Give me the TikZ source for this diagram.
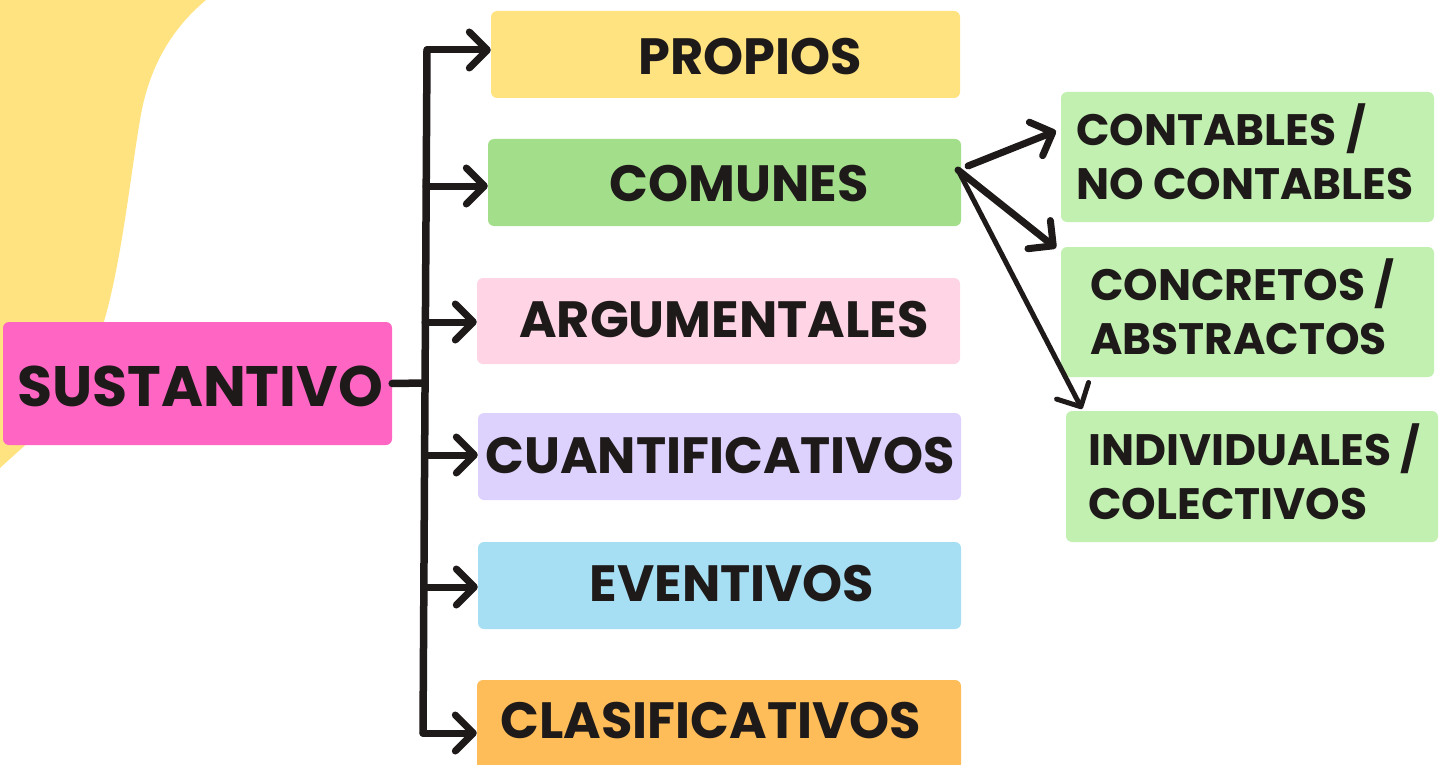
\documentclass[tikz,border=0pt]{standalone}
\usepackage{fontspec}
\setmainfont{Poppins}
\usetikzlibrary{arrows.meta}
\definecolor{cpink}{HTML}{FF66C4}
\definecolor{cyellow}{HTML}{FFE380}
\definecolor{cgreen}{HTML}{A3DF8A}
\definecolor{clpink}{HTML}{FFD4E5}
\definecolor{clav}{HTML}{DDD1FD}
\definecolor{cblue}{HTML}{A6DFF3}
\definecolor{corange}{HTML}{FFBD59}
\definecolor{clgreen}{HTML}{C2F0B1}
\definecolor{ink}{HTML}{1E1A19}
\tikzset{
  box/.style={rounded corners=6pt, inner sep=0pt},
  txt/.style={text=ink, font=\bfseries\fontsize{51}{55}\selectfont, inner sep=0pt, anchor=center},
  rtxt/.style={text=ink, font=\bfseries\fontsize{44}{54}\selectfont, inner sep=0pt, align=left, anchor=north west},
  trunk/.style={line width=7.5pt, draw=ink, line cap=round},
  arr/.style={line width=7pt, draw=ink, line cap=round, -{Straight Barb[length=18pt,width=36pt,round]}},
}
\begin{document}
\begin{tikzpicture}[x=1pt,y=-1pt]
\useasboundingbox (0,0) rectangle (1446,765);
% background blob
\fill[cyellow] (0,0) -- (206,0) .. controls (170,30) and (148,70) .. (140,120)
  .. controls (128,190) and (118,300) .. (90,360)
  .. controls (70,410) and (30,440) .. (0,468) -- cycle;
% boxes
\node[box, fill=cpink, minimum width=389pt, minimum height=123pt] (sus) at (197.5,383.5) {};
\node[box, fill=cyellow, minimum width=469pt, minimum height=87pt] (pro) at (725.5,54.5) {};
\node[box, fill=cgreen, minimum width=473pt, minimum height=87pt] (com) at (724.5,182.5) {};
\node[box, fill=clpink, minimum width=483pt, minimum height=86pt] (arg) at (718.5,321) {};
\node[box, fill=clav, minimum width=483pt, minimum height=87pt] (cua) at (719.5,456.5) {};
\node[box, fill=cblue, minimum width=483pt, minimum height=87pt] (eve) at (719.5,585.5) {};
\node[box, fill=corange, minimum width=484pt, minimum height=90pt] (cla) at (719,725) {};
\node[box, fill=clgreen, minimum width=373pt, minimum height=130pt] (cnt) at (1247.5,157) {};
\node[box, fill=clgreen, minimum width=373pt, minimum height=130pt] (cnc) at (1247.5,312) {};
\node[box, fill=clgreen, minimum width=372pt, minimum height=131pt] (ind) at (1252,476.5) {};
% texts
\node[txt, font=\bfseries\fontsize{57}{62}\selectfont] (tsus) at (200,386) {SUSTANTIVO};
\node[txt] (tpro) at (750,57) {PROPIOS};
\node[txt] (tcom) at (739,184) {COMUNES};
\node[txt] (targ) at (724,320) {ARGUMENTALES};
\node[txt] (tcua) at (720,456) {CUANTIFICATIVOS};
\node[txt] (teve) at (732,584) {EVENTIVOS};
\node[txt] (tcla) at (711,721) {CLASIFICATIVOS};
\node[rtxt] (tcnt) at (1076,103) {CONTABLES /\\NO CONTABLES};
\node[rtxt] (tcnc) at (1090,258) {CONCRETOS /\\ABSTRACTOS};
\node[rtxt] (tind) at (1088,423) {INDIVIDUALES /\\COLECTIVOS};
% trunk
\coordinate (j) at (425,383);
\coordinate (ttop) at (427,50);
\coordinate (tbot) at (423,733);
\draw[trunk] (sus.east) -- (j);
\draw[trunk] (ttop) -- (tbot);
\draw[arr] (ttop) -- (pro.west |- ttop);
\draw[arr] (426,186) -- (com.west |- 0,186);
\draw[arr] (425,322) -- (arg.west |- 0,322);
\draw[arr] (425,455) -- (cua.west |- 0,455);
\draw[arr] (425,587) -- (eve.west |- 0,587);
\draw[arr] (tbot) -- (cla.west |- tbot);
% right arrows
\coordinate (c1) at (968,166);
\coordinate (c2) at (958,170);
\draw[arr] (c1) -- (1056,131);
\draw[arr] (c2) -- (1056,248);
\draw[arr, line width=5pt] (c2) -- (1082,409);
\end{tikzpicture}
\end{document}
